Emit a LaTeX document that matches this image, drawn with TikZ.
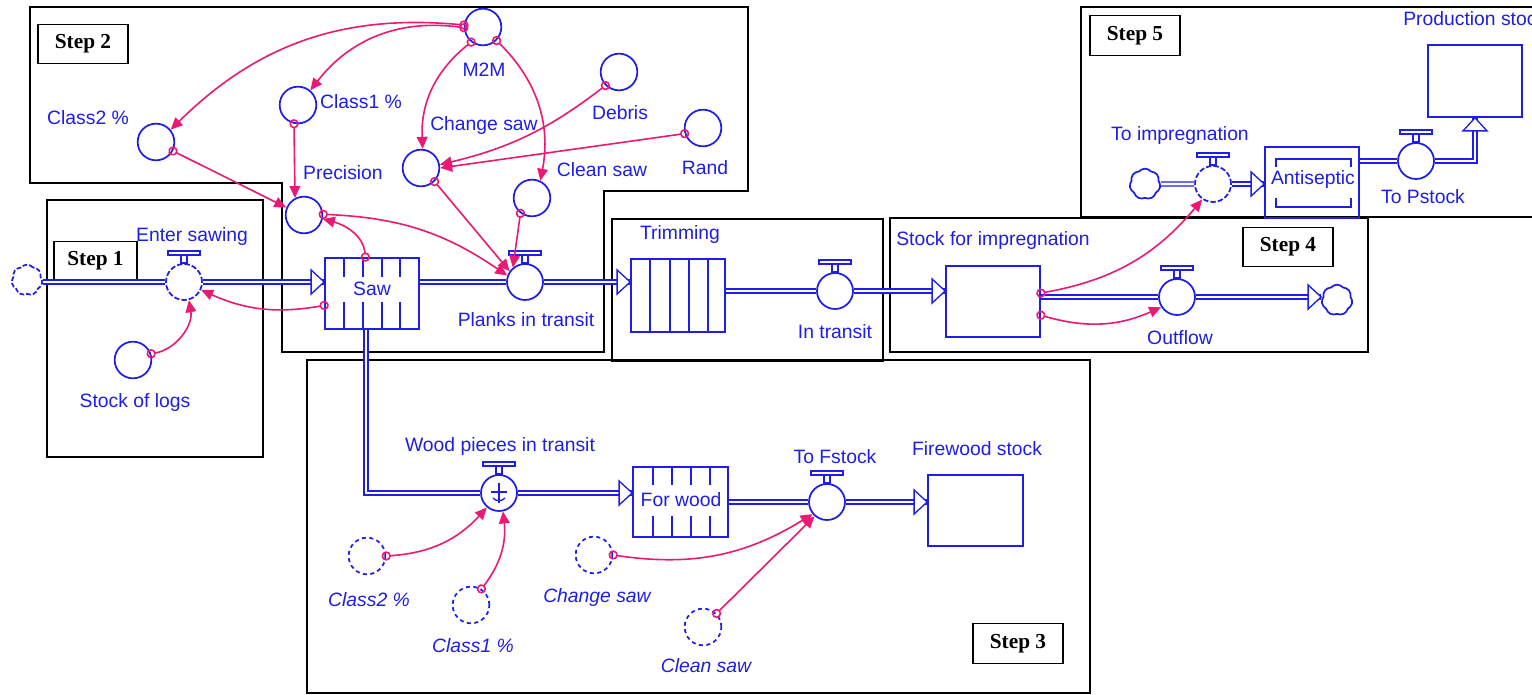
\documentclass[tikz,border=0pt]{standalone}
\usepackage{fontspec}
\setmainfont{Liberation Sans}
\newfontfamily\stepfont{Liberation Serif}
\usetikzlibrary{shapes.symbols,arrows.meta,calc}
\definecolor{sb}{RGB}{30,30,230}
\definecolor{pk}{RGB}{235,25,115}
\tikzset{
 frame/.style={draw=black,line width=2pt},
 steplbl/.style={draw=black,line width=0.9pt,fill=white,font=\stepfont\bfseries\fontsize{16}{16}\selectfont,minimum width=67.5pt,minimum height=29.5pt,inner sep=0pt},
 aux/.style={circle,draw=sb,line width=1.3pt,minimum size=27.5pt,inner sep=0pt},
 ghost/.style={aux,dash pattern=on 3pt off 2.6pt},
 valve/.style={circle,draw=sb,fill=white,line width=1.3pt,minimum size=27pt,inner sep=0pt},
 dvalve/.style={valve,dash pattern=on 4pt off 1.6pt},
 box/.style={rectangle,draw=sb,line width=1.3pt,inner sep=0pt},
 cld/.style={cloud,cloud puffs=7,cloud puff arc=100,aspect=1,draw=sb,fill=white,line width=1.3pt,minimum width=23pt,minimum height=23pt,inner sep=0pt},
 lbl/.style={text=sb,font=\fontsize{14.5}{15}\selectfont,inner sep=0pt},
 ilbl/.style={text=sb,font=\fontsize{14.5}{15}\selectfont\itshape,inner sep=0pt},
 pipe/.style={draw=sb,line width=0.9pt,double=white,double distance=2.2pt},
 conn/.style={draw=pk,line width=1.2pt,shorten <=-3.5pt,arrows={Circle[open,length=7pt,width=7pt]-Triangle[length=9pt,width=8pt]}},
 tip/.style={draw=sb,line width=1pt,fill=white},
 cline/.style={draw=sb,line width=1.2pt},
}
\newcommand\hndl[1]{\draw[cline,line width=1pt] ($(#1.north)+(-16,-12)$) rectangle ($(#1.north)+(16,-8)$); \draw[cline,line width=1pt] ($(#1.north)+(-3,-8)$) rectangle ($(#1.north)+(3,0)$);}
\newcommand\tipR[1]{\draw[tip] ($(#1)+(-13,-12)$) -- (#1) -- ($(#1)+(-13,12)$) -- cycle;}
\newcommand\tipU[1]{\draw[tip] ($(#1)+(-12,13)$) -- (#1) -- ($(#1)+(12,13)$) -- cycle;}
\begin{document}
\begin{tikzpicture}[x=0.75pt,y=-0.75pt]
\useasboundingbox (0,0) rectangle (1532,695);
\fill[white] (0,0) rectangle (1532,695);
% frames
\draw[frame] (30,7) -- (748,7) -- (748,191) -- (604,191) -- (604,352) -- (282,352) -- (282,183) -- (30,183) -- cycle;
\draw[frame] (47,200) rectangle (263,457);
\draw[frame] (612,219) rectangle (883,361);
\draw[frame] (307,360) rectangle (1090,693);
\draw[frame] (890,218) rectangle (1368,352);
\draw[frame] (1545,7) -- (1081,7) -- (1081,217) -- (1545,217);
% step labels
\node[steplbl,minimum width=62.25pt] (s1) at (95.5,261) {Step 1};
\node[steplbl] (s2) at (83,44) {Step 2};
\node[steplbl] (s3) at (1018,643.5) {Step 3};
\node[steplbl] (s4) at (1288,247) {Step 4};
\node[steplbl] (s5) at (1135,35.5) {Step 5};
% step 1
\node[cld,dash pattern=on 3.5pt off 1.5pt] (src1) at (27,280) {};
\node[dvalve] (enter) at (184,282) {};
\node[box,minimum width=70.5pt,minimum height=53.25pt] (saw) at (372,293.5) {};
\node[lbl] (lsaw) at (372,289) {Saw};
\node[aux] (logs) at (133,360) {};
\node[lbl] (llogs) at (135,403) {Stock of logs};
\node[lbl] (lenter) at (192,237) {Enter sawing};
% step 2
\node[aux] (m2m) at (483,27) {};
\node[lbl] (lm2m) at (484,70) {M2M};
\node[aux] (c1) at (298,105) {};
\node[lbl] (lc1) at (361,102) {Class1 \%};
\node[aux] (c2) at (156,142) {};
\node[lbl] (lc2) at (88,118) {Class2 \%};
\node[aux] (prec) at (304,215) {};
\node[lbl] (lprec) at (343,173) {Precision};
\node[aux] (chg) at (421,168) {};
\node[lbl] (lchg) at (484,126) {Change saw};
\node[aux] (deb) at (619,72) {};
\node[lbl] (ldeb) at (620,113) {Debris};
\node[aux] (rand) at (703,128) {};
\node[lbl] (lrand) at (705,168) {Rand};
\node[aux] (cln) at (532,198) {};
\node[lbl] (lcln) at (602,170) {Clean saw};
\node[valve] (plk) at (525,282) {};
\node[lbl] (lplk) at (526,320) {Planks in transit};
% trimming
\node[box,minimum width=70.5pt,minimum height=54.75pt] (trim) at (678,295.5) {};
\node[lbl] (ltrim) at (680,235) {Trimming};
\node[valve] (intr) at (835,291) {};
\node[lbl] (lintr) at (835,332) {In transit};
% step 4
\node[box,minimum width=70.5pt,minimum height=53.25pt] (sfi) at (993,301.5) {};
\node[lbl] (lsfi) at (993,241) {Stock for impregnation};
\node[valve] (out) at (1177,297) {};
\node[lbl] (lout) at (1180,338) {Outflow};
\node[cld] (snk) at (1337,300) {};
% step 5
\node[cld] (src2) at (1145,184) {};
\node[dvalve] (toimp) at (1213,184) {};
\node[lbl] (ltoimp) at (1180,136) {To impregnation};
\node[box,minimum width=70.5pt,minimum height=53.25pt] (anti) at (1312,182.5) {};
\node[lbl] (lanti) at (1313,180) {Antiseptic};
\node[valve] (tops) at (1416,161) {};
\node[lbl] (ltops) at (1423,197) {To Pstock};
\node[box,minimum width=70.5pt,minimum height=54pt] (prod) at (1475,81) {};
\node[lbl,anchor=west] (lprod) at (1403,19) {Production stock};
% step 3
\node[valve] (wood) at (499,493) {};
\node[lbl] (lwood) at (500,447) {Wood pieces in transit};
\node[box,minimum width=71.25pt,minimum height=52.5pt] (fw) at (680.5,502) {};
\node[lbl] (lfw) at (681,500) {For wood};
\node[valve] (tofs) at (827,502) {};
\node[lbl] (ltofs) at (835,457) {To Fstock};
\node[box,minimum width=71.25pt,minimum height=53.25pt] (fire) at (975.5,510.5) {};
\node[lbl] (lfire) at (977,449) {Firewood stock};
\node[ghost] (g2) at (367,556) {};
\node[ilbl] (lg2) at (369,600) {Class2 \%};
\node[ghost] (g1) at (471,605) {};
\node[ilbl] (lg1) at (473,646) {Class1 \%};
\node[ghost] (gchg) at (594,555) {};
\node[ilbl] (lgchg) at (597,597) {Change saw};
\node[ghost] (gcln) at (703,627) {};
\node[ilbl] (lgcln) at (706,666) {Clean saw};
% conveyor details
\foreach \x in {344,363,382,400} {\draw[cline] (\x,258) -- (\x,277); \draw[cline] (\x,302) -- (\x,329);}
\foreach \x in {650,670,689,708} {\draw[cline] (\x,259) -- (\x,332);}
\foreach \x in {653,672,691,710} {\draw[cline] (\x,467) -- (\x,485); \draw[cline] (\x,516) -- (\x,537);}
\draw[cline] (1276,167) -- (1276,159) -- (1351,159) -- (1351,167);
\draw[cline] (1276,198) -- (1276,207) -- (1351,207) -- (1351,198);
% pipes
\draw[pipe] (src1.east |- enter) -- (enter.west);
\coordinate (a1) at (saw.west |- enter);
\draw[pipe] (enter.east) -- (a1); \tipR{a1}
\draw[pipe] (saw.east |- plk) -- (plk.west);
\coordinate (a2) at (trim.west |- plk);
\draw[pipe] (plk.east) -- (a2); \tipR{a2}
\draw[pipe] (trim.east |- intr) -- (intr.west);
\coordinate (a3) at (sfi.west |- intr);
\draw[pipe] (intr.east) -- (a3); \tipR{a3}
\draw[pipe] (sfi.east |- out) -- (out.west);
\coordinate (a4) at (snk.west |- out);
\draw[pipe] (out.east) -- (a4); \tipR{a4}
\draw[pipe] ([xshift=-4.5pt]saw.south) |- (wood.west);
\coordinate (a5) at (fw.west |- wood);
\draw[pipe] (wood.east) -- (a5); \tipR{a5}
\draw[pipe] (fw.east |- tofs) -- (tofs.west);
\coordinate (a6) at (fire.west |- tofs);
\draw[pipe] (tofs.east) -- (a6); \tipR{a6}
\draw[pipe] (src2.east) -- (toimp.west);
\coordinate (a7) at (anti.west |- toimp);
\draw[pipe] (toimp.east) -- (a7); \tipR{a7}
\draw[pipe] (anti.east |- tops) -- (tops.west);
\draw[pipe] (tops.east) -| (prod.south); \tipU{prod.south}
% valve handles
\hndl{enter} \hndl{plk} \hndl{intr} \hndl{out} \hndl{toimp} \hndl{tops} \hndl{wood} \hndl{tofs}
% wood valve symbol
\draw[cline,line width=1pt] ($(wood)+(0,-10)$) -- ($(wood)+(0,10)$);
\draw[cline,line width=1pt] ($(wood)+(-8,-1)$) -- ($(wood)+(8,-1)$);
\draw[cline,line width=1pt] ($(wood)+(-6,5)$) to[bend right=50] ($(wood)+(6,5)$);
% connectors
\draw[conn] (m2m.174) to[bend right=25] (c2.40);
\draw[conn] (m2m.182) to[bend right=30] (c1.50);
\draw[conn] (m2m.232) to[bend right=27] (chg.85);
\draw[conn] (m2m.-45) to[bend left=28] (cln.64);
\draw[conn] (deb.225) to[bend left=12] (chg.10);
\draw[conn] (rand.197) -- (chg.0);
\draw[conn] (c2.-28) -- (prec.157);
\draw[conn] (c1.258) -- (prec.118);
\draw[conn] ([xshift=-5pt]saw.north) to[out=95,in=-15] (prec.-12);
\draw[conn] (prec.2) to[bend left=16] (plk.160);
\draw[conn] (chg.-45) -- (plk.145);
\draw[conn] (cln.233) -- (plk.130);
\draw[conn] (logs.19) to[bend right=45] (enter.-75);
\draw[conn] (saw.194) to[bend left=17] (enter.-25);
\draw[conn] (sfi.10) to[bend right=20] (toimp.235);
\draw[conn] (sfi.-16) to[bend right=20] (out.213);
\draw[conn] (g2.0) to[bend right=22] (wood.230);
\draw[conn] (g1.57) to[bend right=22] (wood.-78);
\draw[conn] (gchg.0) to[bend right=20] (tofs.220);
\draw[conn] (gcln.45) -- (tofs.229);
\end{tikzpicture}
\end{document}
